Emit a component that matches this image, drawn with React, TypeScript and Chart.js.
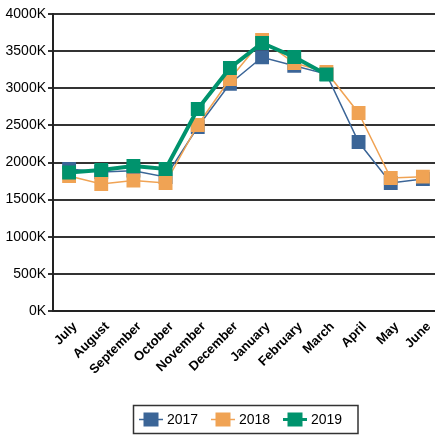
import { useEffect, useRef } from 'react';
import { Chart, registerables } from 'chart.js';

Chart.register(...registerables);

const months = ['July', 'August', 'September', 'October', 'November', 'December', 'January', 'February', 'March', 'April', 'May', 'June'];
const sales2017 = [1913000, 1872000, 1890000, 1805000, 2478000, 3061000, 3418000, 3303000, 3190000, 2276000, 1724000, 1778000];
const sales2018 = [1818000, 1710000, 1758000, 1724000, 2505000, 3125000, 3650000, 3340000, 3219000, 2667000, 1791000, 1809000];
const sales2019 = [1865000, 1899000, 1953000, 1913000, 2720000, 3273000, 3610000, 3421000, 3185000, null, null, null];
const seriesNames = ['2017', '2018', '2019'];
const seriesColors = ['#3b6597', '#f0a354', '#00936d'];
const yMin = 0;
const yMax = 4000000;
const yStep = 500000;

export default function App() {
  const ref = useRef<HTMLCanvasElement>(null);

  useEffect(() => {
    document.body.style.margin = '0';
    document.body.style.overflow = 'hidden';
    document.documentElement.style.overflow = 'hidden';
    const boxLegend = {
      id: 'boxLegend',
      afterDraw(chart: any) {
        const ctx = chart.ctx;
        ctx.save();
        ctx.strokeStyle = '#333';
        ctx.lineWidth = 1.5;
        ctx.strokeRect(133.5, 405.5, 224.5, 28);
        const lineWidths = [1.5, 1.5, 3];
        seriesNames.forEach((name, i) => {
          const cx = 151 + 72 * i;
          const cy = 419.5;
          ctx.strokeStyle = seriesColors[i];
          ctx.lineWidth = lineWidths[i];
          ctx.beginPath();
          ctx.moveTo(cx - 12, cy);
          ctx.lineTo(cx + 12, cy);
          ctx.stroke();
          ctx.fillStyle = seriesColors[i];
          ctx.fillRect(cx - 7.5, cy - 7, 15, 14);
          ctx.fillStyle = '#000';
          ctx.font = '14px "Liberation Sans", Arial, sans-serif';
          ctx.textBaseline = 'middle';
          ctx.textAlign = 'left';
          ctx.fillText(name, cx + 16, cy + 0.5);
        });
        ctx.restore();
      },
    };

    const mk = (label: string, data: (number | null)[], color: string, width: number, order: number) => ({
      label,
      data,
      borderColor: color,
      backgroundColor: color,
      borderWidth: width,
      pointStyle: 'rect',
      pointRadius: 9.8,
      pointHoverRadius: 9.8,
      pointBorderWidth: 0,
      pointBackgroundColor: color,
      tension: 0,
      order,
    });

    const chart = new Chart(ref.current!, {
      type: 'line',
      data: {
        labels: months,
        datasets: [
          mk(seriesNames[0], sales2017, seriesColors[0], 1.5, 3),
          mk(seriesNames[1], sales2018, seriesColors[1], 1.5, 2),
          mk(seriesNames[2], sales2019, seriesColors[2], 4, 1),
        ] as any,
      },
      options: {
        animation: false,
        responsive: true,
        maintainAspectRatio: false,
        layout: { autoPadding: false, padding: { top: 14, bottom: 40, left: 0, right: 0 } },
        plugins: {
          legend: { display: false },
          tooltip: { enabled: false },
        },
        scales: {
          x: {
            type: 'category',
            offset: true,
            grid: { display: false },
            border: { display: true, color: '#222', width: 2 },
            ticks: {
              color: '#000',
              font: { family: '"Liberation Sans", Arial, sans-serif', size: 13, weight: 'bold' },
              maxRotation: 45,
              minRotation: 45,
              padding: 0,
              labelOffset: 6,
              autoSkip: false,
            },
            afterFit(s: any) {
              s.height = 84;
              s.paddingLeft = 0;
              s.paddingRight = 0;
            },
          },
          y: {
            min: yMin,
            max: yMax,
            ticks: {
              stepSize: yStep,
              color: '#000',
              font: { family: '"Liberation Sans", Arial, sans-serif', size: 14 },
              padding: 2,
              callback: (v: any) => `${Number(v) / 1000}K`,
            },
            grid: { color: '#333', lineWidth: 2, tickLength: 5, drawTicks: true },
            border: { display: true, color: '#222', width: 2 },
            afterFit(s: any) {
              s.width = 53;
              s.paddingTop = 0;
              s.paddingBottom = 0;
            },
          },
        },
      } as any,
      plugins: [boxLegend],
    });
    return () => chart.destroy();
  }, []);

  return (
    <div style={{ width: 439, height: 435, position: 'relative' }}>
      <canvas ref={ref} />
    </div>
  );
}
